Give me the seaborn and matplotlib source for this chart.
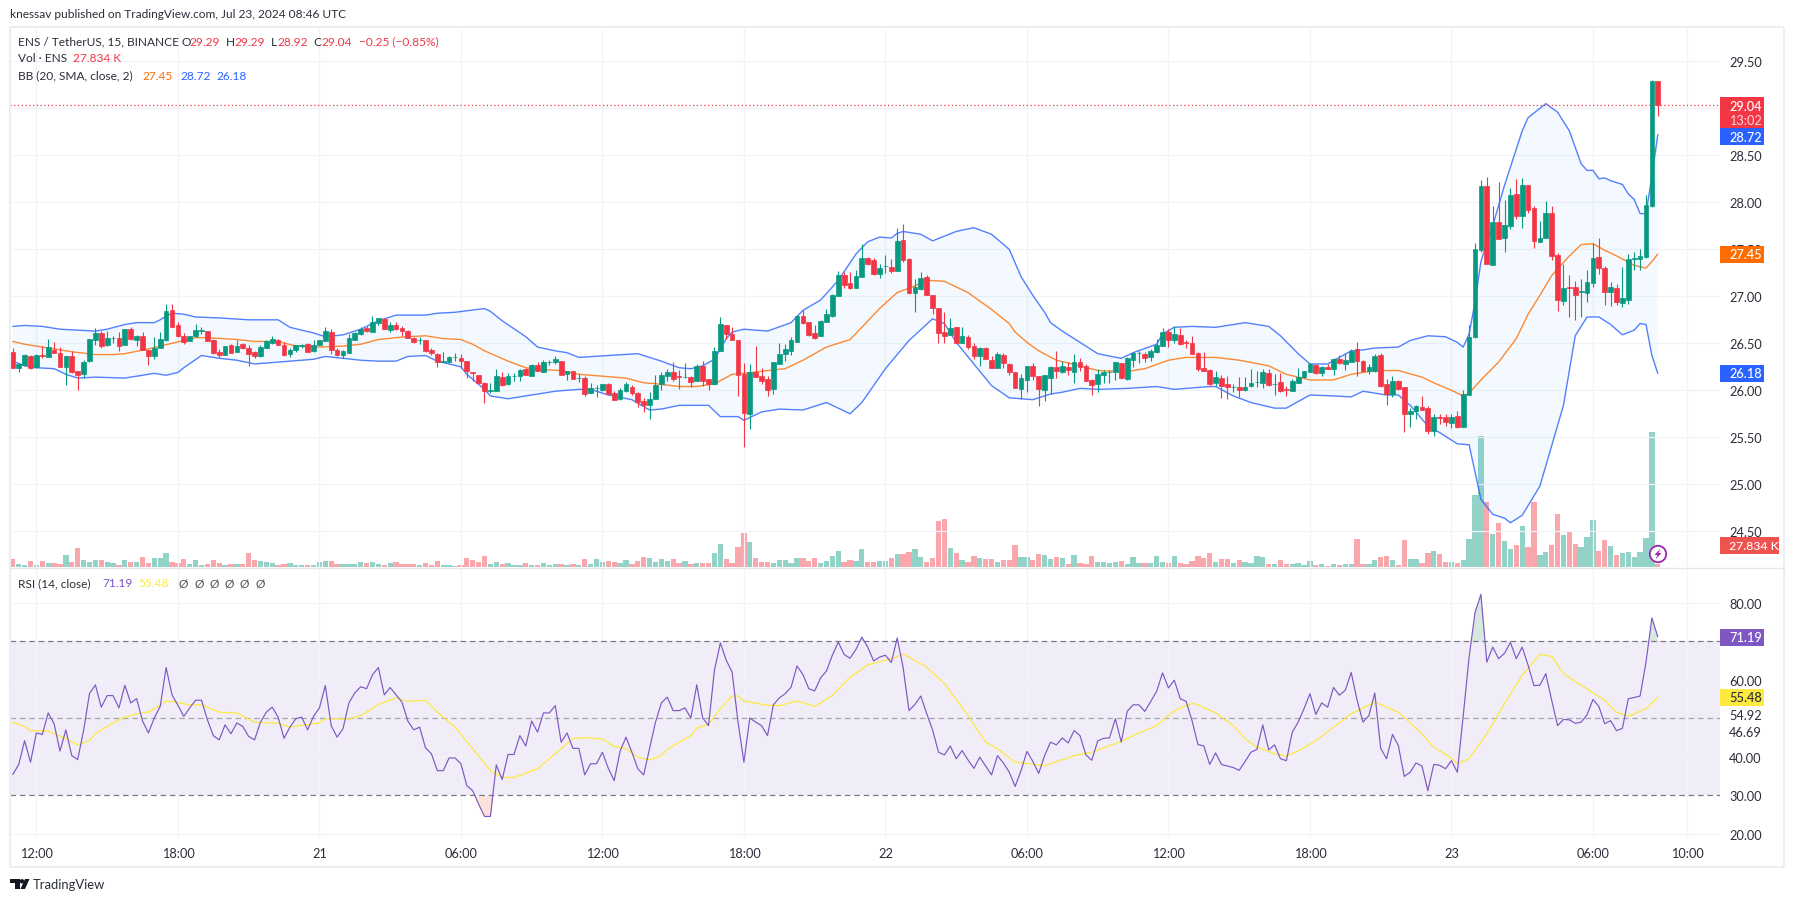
import numpy as np
import matplotlib
matplotlib.use("Agg")
import matplotlib.pyplot as plt
from matplotlib.patches import Rectangle, Circle, Polygon
import seaborn as sns

# bars are 15 minute candles counted from Jul 20 12:00
bars = list(range(-4, 276))

opens = [26.41,26.24,26.27,26.37,
    26.25,26.38,26.35,26.43,26.40,26.25,26.37,26.21,26.17,26.31,
    26.54,26.61,26.48,26.56,26.56,26.48,26.65,26.54,26.58,26.43,
    26.37,26.45,26.54,26.85,26.69,26.58,26.52,26.58,26.63,26.63,
    26.53,26.41,26.38,26.48,26.41,26.49,26.45,26.41,26.36,26.45,
    26.50,26.53,26.48,26.39,26.43,26.47,26.49,26.42,26.48,26.52,
    26.62,26.43,26.38,26.40,26.54,26.60,26.66,26.62,26.72,26.76,
    26.64,26.70,26.66,26.63,26.56,26.53,26.54,26.43,26.39,26.30,
    26.30,26.35,26.34,26.31,26.20,26.16,26.08,25.99,25.99,26.14,
    26.07,26.15,26.15,26.23,26.15,26.27,26.20,26.30,26.30,26.31,
    26.17,26.21,26.13,26.13,25.97,26.02,26.00,26.07,25.97,25.91,
    25.99,26.04,25.97,25.89,25.84,25.91,26.07,26.15,26.20,26.15,
    26.14,26.14,26.10,26.26,26.12,26.07,26.42,26.70,26.60,26.54,
    26.17,25.75,26.20,26.15,26.12,26.01,26.28,26.39,26.42,26.51,
    26.79,26.73,26.61,26.58,26.73,26.79,27.00,27.23,27.14,27.09,
    27.21,27.41,27.39,27.24,27.32,27.31,27.27,27.60,27.40,27.04,
    27.08,27.21,27.01,26.88,26.62,26.59,26.67,26.50,26.57,26.47,
    26.36,26.45,26.32,26.24,26.38,26.28,26.20,26.01,26.11,26.26,
    26.15,26.00,26.13,26.25,26.20,26.25,26.20,26.30,26.26,26.11,
    26.07,26.16,26.19,26.20,26.29,26.12,26.32,26.40,26.39,26.35,
    26.41,26.47,26.62,26.54,26.59,26.51,26.50,26.40,26.24,26.22,
    26.08,26.13,26.07,26.03,26.03,26.00,26.05,26.09,26.08,26.18,
    26.07,26.09,26.01,25.99,26.08,26.14,26.20,26.27,26.18,26.25,
    26.23,26.33,26.28,26.30,26.44,26.31,26.21,26.21,26.38,26.07,
    25.96,26.10,26.04,25.75,25.78,25.82,25.81,25.57,25.72,25.72,
    25.65,25.73,25.61,25.95,26.57,27.49,28.17,27.33,27.79,27.62,
    27.75,28.09,27.85,28.18,27.94,27.58,27.62,27.89,27.44,26.95,
    27.10,27.10,27.05,27.04,27.14,27.42,27.30,27.05,27.09,26.93,
    26.96,27.40,27.40,27.42,27.96,29.29]
highs = [26.45,26.29,26.39,26.38,
    26.39,26.47,26.55,26.51,26.46,26.37,26.42,26.21,26.32,26.55,
    26.66,26.63,26.63,26.58,26.62,26.65,26.67,26.59,26.62,26.43,
    26.57,26.62,26.92,26.92,26.73,26.61,26.58,26.71,26.67,26.63,
    26.55,26.44,26.47,26.49,26.53,26.50,26.48,26.42,26.48,26.53,
    26.58,26.55,26.51,26.45,26.48,26.49,26.50,26.54,26.54,26.67,
    26.65,26.45,26.43,26.60,26.62,26.67,26.68,26.79,26.77,26.77,
    26.73,26.73,26.68,26.64,26.57,26.57,26.54,26.45,26.40,26.41,
    26.37,26.40,26.39,26.31,26.20,26.16,26.09,26.08,26.23,26.19,
    26.18,26.18,26.23,26.24,26.28,26.30,26.32,26.32,26.36,26.31,
    26.21,26.21,26.17,26.15,26.08,26.06,26.07,26.08,25.99,26.02,
    26.09,26.06,25.98,25.92,25.98,26.16,26.19,26.23,26.30,26.22,
    26.29,26.15,26.28,26.31,26.12,26.46,26.78,26.70,26.67,26.54,
    26.29,26.28,26.47,26.24,26.15,26.30,26.50,26.49,26.57,26.80,
    26.85,26.73,26.69,26.75,26.86,27.02,27.27,27.26,27.26,27.28,
    27.56,27.42,27.41,27.34,27.44,27.40,27.73,27.77,27.41,27.18,
    27.26,27.23,27.01,26.88,26.83,26.77,26.67,26.67,26.59,26.50,
    26.46,26.46,26.36,26.41,26.40,26.29,26.20,26.17,26.26,26.29,
    26.15,26.16,26.26,26.42,26.31,26.30,26.39,26.34,26.28,26.12,
    26.23,26.22,26.22,26.30,26.29,26.35,26.41,26.42,26.41,26.44,
    26.55,26.66,26.65,26.68,26.66,26.54,26.58,26.41,26.41,26.23,
    26.21,26.16,26.15,26.07,26.14,26.14,26.23,26.21,26.23,26.23,
    26.17,26.18,26.05,26.12,26.24,26.21,26.29,26.28,26.26,26.28,
    26.34,26.38,26.40,26.44,26.51,26.32,26.28,26.39,26.40,26.12,
    26.15,26.11,26.04,25.81,25.84,25.94,25.83,25.75,25.75,25.75,
    25.75,25.78,26.00,26.70,27.57,28.24,28.27,27.96,28.22,28.02,
    28.15,28.25,28.26,28.18,27.96,27.80,28.01,27.96,27.46,27.34,
    27.23,27.16,27.18,27.28,27.57,27.62,27.32,27.15,27.13,27.31,
    27.45,27.47,27.50,28.08,29.30,29.29]
lows = [26.24,26.19,26.26,26.23,
    26.24,26.34,26.35,26.40,26.25,26.06,26.18,26.00,26.13,26.30,
    26.48,26.45,26.47,26.50,26.42,26.48,26.53,26.47,26.43,26.27,
    26.33,26.45,26.52,26.67,26.57,26.49,26.52,26.57,26.60,26.52,
    26.39,26.34,26.38,26.40,26.41,26.44,26.26,26.34,26.35,26.45,
    26.49,26.48,26.37,26.35,26.41,26.45,26.41,26.41,26.48,26.52,
    26.39,26.36,26.34,26.40,26.54,26.59,26.62,26.62,26.69,26.65,
    26.62,26.64,26.58,26.56,26.50,26.49,26.41,26.38,26.25,26.30,
    26.30,26.31,26.24,26.13,26.10,26.08,25.86,25.97,25.99,26.05,
    26.06,26.10,26.10,26.16,26.15,26.21,26.20,26.27,26.28,26.16,
    26.11,26.12,26.09,25.94,25.97,25.93,25.99,25.96,25.90,25.90,
    25.98,25.95,25.82,25.77,25.69,25.91,26.00,26.10,26.10,26.01,
    26.13,26.04,26.10,26.05,26.00,26.06,26.42,26.55,26.54,25.94,
    25.40,25.59,26.14,26.07,25.94,25.96,26.28,26.31,26.38,26.51,
    26.71,26.58,26.55,26.58,26.73,26.78,27.00,27.09,27.08,27.09,
    27.21,27.33,27.23,27.20,27.25,27.25,27.27,27.37,27.02,26.83,
    27.07,27.01,26.81,26.50,26.50,26.59,26.50,26.50,26.44,26.33,
    26.26,26.33,26.24,26.24,26.24,26.16,26.02,25.91,25.98,26.11,
    25.83,25.89,25.96,26.13,26.18,26.16,26.08,26.21,26.10,25.95,
    25.98,26.08,26.08,26.11,26.12,26.11,26.25,26.29,26.30,26.31,
    26.40,26.47,26.46,26.50,26.48,26.45,26.39,26.21,26.21,26.06,
    26.05,25.92,25.91,25.98,25.93,25.99,26.04,26.03,26.02,26.05,
    25.95,25.98,25.94,25.99,26.08,26.13,26.20,26.17,26.15,26.23,
    26.16,26.28,26.22,26.30,26.15,26.20,26.17,26.20,26.03,25.84,
    25.93,26.00,25.56,25.61,25.69,25.79,25.54,25.51,25.64,25.62,
    25.60,25.60,25.61,25.95,26.56,27.47,27.34,27.33,27.61,27.47,
    27.72,27.82,27.73,27.89,27.51,27.58,27.62,27.39,26.84,26.91,
    26.78,26.75,26.78,26.94,27.10,27.24,26.91,26.90,26.91,26.89,
    26.92,27.28,27.28,27.41,27.95,28.92]
closes = [26.24,26.28,26.38,26.24,
    26.38,26.37,26.46,26.40,26.25,26.37,26.19,26.16,26.30,26.55,
    26.61,26.47,26.56,26.56,26.47,26.65,26.55,26.58,26.43,26.37,
    26.45,26.55,26.84,26.67,26.58,26.51,26.58,26.64,26.64,26.52,
    26.40,26.38,26.47,26.40,26.47,26.45,26.39,26.36,26.46,26.52,
    26.55,26.48,26.38,26.43,26.48,26.48,26.41,26.48,26.53,26.63,
    26.43,26.38,26.42,26.56,26.61,26.65,26.63,26.73,26.77,26.65,
    26.70,26.65,26.63,26.56,26.51,26.53,26.42,26.40,26.30,26.31,
    26.35,26.35,26.31,26.21,26.18,26.08,25.99,26.00,26.15,26.06,
    26.15,26.15,26.22,26.16,26.27,26.21,26.30,26.30,26.33,26.16,
    26.21,26.12,26.13,25.96,26.02,26.02,26.07,25.96,25.90,26.00,
    26.07,25.97,25.88,25.84,25.91,26.06,26.16,26.19,26.12,26.14,
    26.14,26.09,26.26,26.10,26.07,26.42,26.71,26.60,26.54,26.16,
    25.76,26.20,26.14,26.10,26.00,26.30,26.39,26.44,26.53,26.79,
    26.72,26.59,26.56,26.74,26.81,27.01,27.23,27.12,27.09,27.22,
    27.41,27.34,27.24,27.30,27.32,27.27,27.59,27.39,27.04,27.10,
    27.20,27.01,26.88,26.61,26.58,26.66,26.50,26.58,26.46,26.37,
    26.45,26.33,26.24,26.39,26.29,26.20,26.02,26.13,26.26,26.15,
    26.01,26.16,26.25,26.21,26.26,26.22,26.30,26.25,26.10,26.06,
    26.17,26.20,26.20,26.30,26.13,26.34,26.40,26.40,26.34,26.42,
    26.48,26.62,26.54,26.60,26.49,26.50,26.39,26.23,26.21,26.07,
    26.14,26.05,26.03,26.03,26.00,26.04,26.08,26.09,26.20,26.06,
    26.07,25.99,26.00,26.10,26.14,26.21,26.28,26.18,26.25,26.23,
    26.33,26.29,26.32,26.42,26.31,26.21,26.25,26.37,26.05,25.96,
    26.10,26.01,25.75,25.78,25.83,25.79,25.57,25.72,25.71,25.66,
    25.72,25.61,25.96,26.57,27.50,28.17,27.34,27.79,27.61,27.76,
    28.08,27.85,28.18,27.92,27.59,27.62,27.89,27.43,26.96,27.09,
    27.09,27.01,27.06,27.15,27.41,27.30,27.05,27.10,26.94,26.98,
    27.40,27.41,27.43,27.97,29.29,29.04]

# volume in thousands of ENS
volumes = [80,30,20,60,20,60,40,40,30,120,
    47,190,70,50,70,70,47,40,23,70,
    50,50,100,40,90,90,140,50,40,80,
    30,70,20,30,70,40,23,30,30,30,
    140,70,60,50,40,23,30,40,20,20,
    20,20,50,60,60,30,30,30,30,50,
    40,50,30,20,40,50,30,30,30,20,
    40,20,60,20,20,10,20,90,70,50,
    110,30,50,30,40,20,20,40,20,20,
    40,20,30,30,20,30,20,80,30,80,
    47,60,50,40,70,30,60,100,90,50,
    80,60,80,40,60,30,40,40,40,140,
    230,80,40,200,340,250,90,50,50,40,
    70,70,40,90,90,60,90,40,60,110,
    160,50,70,60,180,50,50,60,60,90,
    130,130,150,180,100,50,90,463,480,190,
    140,70,50,110,90,80,80,50,70,70,
    220,100,100,70,130,120,80,100,90,30,
    120,40,30,110,50,50,40,50,60,30,
    100,40,40,40,110,50,40,110,40,30,
    60,110,93,143,50,83,83,43,73,50,
    43,110,103,33,33,73,33,33,43,23,
    60,23,33,13,30,23,30,30,280,33,
    33,73,103,113,73,23,273,83,83,43,
    143,163,130,50,53,43,73,283,723,1313,
    650,333,443,263,177,223,413,203,650,123,
    150,223,533,323,363,233,203,303,473,163,
    273,213,123,143,153,103,153,293,1353,28]

# Bollinger bands, read at the bars where the lines bend
upper_bars = [-4,-2,1,4,7,10,12,15,17,20,21,22,23,25,27,31,36,41,43,45,47,49,52,55,58,61,66,68,71,76,77,79,
    83,85,88,90,92,97,102,106,109,111,113,115,117,118,120,124,128,130,133,136,139,141,143,145,146,147,150,
    152,156,159,162,165,167,169,171,172,174,176,178,180,184,186,190,191,193,196,200,205,209,211,214,216,219,
    223,225,227,231,233,236,239,241,242,243,244,245,246,247,249,252,253,256,258,260,262,263,264,265,266,267,
    269,270,271,272,273,274,275]
upper_vals = [26.68,26.69,26.68,26.65,26.64,26.63,26.65,26.70,26.72,26.72,26.75,26.79,26.82,26.81,26.78,26.77,
    26.75,26.75,26.67,26.64,26.61,26.57,26.59,26.65,26.74,26.80,26.80,26.82,26.83,26.87,26.84,26.74,
    26.57,26.46,26.42,26.40,26.35,26.37,26.39,26.31,26.24,26.23,26.26,26.33,26.55,26.62,26.65,26.63,26.72,
    26.85,26.96,27.17,27.45,27.58,27.63,27.62,27.67,27.69,27.66,
    27.59,27.69,27.73,27.66,27.50,27.21,27.01,26.83,26.72,26.63,26.55,26.47,26.39,26.34,26.40,26.49,26.60,
    26.67,26.68,26.67,26.72,26.68,26.58,26.39,26.28,26.28,
    26.42,26.43,26.45,26.46,26.53,26.58,26.57,26.51,26.46,26.60,26.94,27.37,27.57,27.75,28.18,28.76,28.90,
    29.05,28.96,28.76,28.41,28.34,28.34,28.25,28.26,28.23,
    28.19,28.09,28.03,27.88,27.88,28.28,28.72]
basis_bars = [-4,-2,2,6,10,13,15,19,23,25,27,29,34,37,41,44,48,52,55,58,61,63,66,69,72,74,76,80,83,86,89,92,96,
    100,103,105,109,112,115,118,120,124,127,130,134,138,140,143,146,149,151,154,158,162,165,166,168,170,173,
    177,180,185,188,192,195,200,204,209,212,216,220,223,227,231,235,237,240,242,243,245,248,251,253,255,257,
    260,262,264,266,268,271,273,274,275]
basis_vals = [26.52,26.49,26.45,26.41,26.38,26.38,26.39,26.44,26.50,26.53,26.56,26.56,26.54,26.52,26.52,26.47,
    26.46,26.47,26.49,26.54,26.56,26.57,26.58,26.55,26.54,26.49,26.42,26.31,26.24,26.22,26.21,26.17,26.15,
    26.13,26.08,26.07,26.04,26.04,26.07,26.17,26.18,26.21,26.23,26.32,26.46,26.54,26.67,26.87,27.04,27.11,
    27.17,27.16,27.04,26.86,26.71,26.62,26.51,26.42,26.32,
    26.26,26.21,26.20,26.23,26.32,26.35,26.35,26.32,26.26,26.17,26.11,26.11,26.17,26.21,26.21,26.14,26.08,
    26.00,25.94,25.97,26.11,26.30,26.55,26.81,27.01,27.22,
    27.43,27.55,27.56,27.49,27.43,27.33,27.30,27.37,27.45]
lower_bars = [-4,-2,0,3,5,7,10,15,17,20,22,24,25,28,31,34,37,41,45,47,49,52,55,58,61,63,66,68,72,73,76,77,80,84,
    88,92,94,97,101,104,106,109,114,116,119,120,123,126,130,134,138,140,144,148,152,154,156,159,162,165,167,169,
    172,174,177,180,185,190,193,199,200,203,206,210,212,216,220,223,225,229,231,233,236,238,241,243,245,247,
    249,250,252,255,259,261,263,265,267,269,271,272,273,274,275]
lower_vals = [26.31,26.26,26.24,26.23,26.17,26.13,26.14,26.13,26.15,26.18,26.16,26.19,26.24,26.37,26.34,26.32,
    26.28,26.30,26.32,26.33,26.36,26.34,26.32,26.31,26.31,26.36,26.37,26.31,26.25,26.17,26.01,25.94,25.91,25.95,
    25.99,26.01,26.01,25.95,25.90,25.79,25.80,25.84,25.84,25.72,25.72,25.68,25.77,25.80,25.79,25.87,25.75,25.87,
    26.23,26.53,26.76,26.71,26.51,26.28,26.05,25.92,25.91,25.90,
    25.96,25.98,26.02,26.01,26.02,26.04,26.01,26.04,26.04,25.94,25.87,25.81,25.81,25.95,25.94,25.93,25.99,25.95,
    25.95,25.84,25.62,25.55,25.43,25.42,24.84,24.68,
    24.64,24.59,24.67,24.98,25.84,26.58,26.78,26.78,26.70,26.59,26.64,26.71,26.70,26.37,26.18]

rsi_vals = [35.4,38.0,44.2,38.6,46.2,45.8,51.4,48.6,41.5,47.0,
    40.3,39.3,46.8,56.4,58.7,52.9,55.9,55.9,52.7,58.6,
    54.0,55.1,49.3,46.2,50.1,53.1,63.2,56.1,53.4,50.5,
    52.7,54.7,54.7,49.6,45.5,44.4,48.3,46.0,48.8,47.9,
    45.3,44.4,49.0,51.6,52.9,50.3,44.8,47.7,49.9,50.3,
    47.0,50.5,52.7,58.5,48.1,45.1,47.3,54.0,56.6,58.2,
    57.7,61.3,63.2,56.1,58.0,56.1,54.2,49.3,47.0,47.7,
    42.3,40.8,36.4,36.4,39.7,39.7,38.2,32.5,31.2,27.7,
    24.5,24.5,37.9,34.1,40.6,40.6,45.5,42.8,49.3,46.4,
    51.4,51.4,53.3,43.8,46.2,42.2,42.2,35.3,38.2,38.2,
    41.2,37.0,33.8,41.5,45.1,41.2,36.9,35.3,42.1,49.0,
    54.0,55.5,52.0,52.0,52.7,50.1,58.7,50.1,48.1,62.5,
    69.6,65.1,62.0,49.0,38.6,50.1,49.0,48.1,45.5,53.5,
    55.3,56.4,58.1,63.6,61.4,57.7,57.1,60.5,62.3,66.4,
    69.8,66.6,65.6,67.9,71.1,68.5,64.9,65.9,66.4,64.5,
    70.9,63.2,52.0,53.6,55.8,51.2,47.0,41.2,40.5,42.8,
    39.5,41.6,39.2,37.0,39.9,37.6,35.3,40.3,38.4,36.0,
    32.3,36.4,41.4,38.8,35.7,40.3,43.8,43.1,44.9,43.6,
    46.8,45.5,40.5,39.1,44.1,44.8,44.9,49.9,43.8,51.8,
    53.5,53.5,51.8,54.4,57.0,61.8,57.9,59.9,55.1,54.4,
    49.4,43.2,42.8,38.0,41.0,38.0,37.6,37.2,36.5,38.8,
    41.2,41.9,48.3,41.8,43.1,39.5,39.0,46.4,49.0,52.5,
    56.4,51.0,54.0,52.9,58.0,56.0,57.3,61.9,54.7,49.0,
    50.7,56.6,42.2,39.5,45.8,42.9,34.9,36.0,38.4,37.6,
    31.2,38.0,37.8,36.9,39.0,36.0,50.7,65.9,77.5,82.2,
    64.6,68.5,65.5,66.9,69.7,65.5,68.5,63.8,58.5,58.6,
    61.6,54.7,48.1,49.7,49.6,48.7,49.0,50.9,54.9,53.1,
    48.6,49.4,46.8,47.4,55.1,55.4,55.8,64.6,76.1,71.19]

rsi_ma_bars = [-4,-2,-1,2,5,7,9,10,13,15,18,19,22,23,26,28,31,34,37,41,43,46,48,49,53,55,58,61,63,66,68,71,74,77,79,
    81,85,88,91,93,96,98,100,102,104,106,107,109,111,112,114,116,118,119,120,124,126,129,132,133,135,138,141,145,147,
    151,154,158,161,163,166,171,176,179,184,187,190,193,196,197,200,203,205,207,210,212,214,217,220,223,227,231,235,
    237,240,241,243,246,249,252,255,257,259,262,266,268,270,273,275]
rsi_ma_vals = [49.0,47.9,46.8,46.7,44.7,43.1,44.2,46.0,48.8,50.3,51.5,51.6,54.4,54.4,53.5,53.5,51.6,51.4,49.0,48.7,
    47.7,48.4,48.8,49.9,49.8,50.7,53.6,55.3,54.4,54.7,51.6,47.7,42.1,36.4,34.7,
    34.6,36.9,40.8,44.7,45.0,44.6,42.7,42.1,39.9,39.2,40.3,41.9,43.8,45.5,47.5,48.4,52.5,55.8,55.8,54.5,53.4,53.3,
    54.5,53.1,54.0,56.0,60.7,63.9,65.5,66.7,
    63.3,59.0,50.7,43.8,42.1,38.6,37.7,40.3,41.2,44.0,46.2,48.1,52.0,53.9,53.5,51.4,48.1,44.7,42.5,40.8,40.2,41.5,
    44.2,47.7,51.2,54.2,51.6,46.0,
    42.5,39.7,38.2,39.5,46.0,53.8,61.2,66.6,66.1,61.6,58.6,54.7,51.6,50.5,52.5,55.48]

price_ticks = [29.5, 29.0, 28.5, 28.0, 27.5, 27.0, 26.5, 26.0, 25.5, 25.0, 24.5]
price_tick_labels = ["29.50", "", "28.50", "28.00", "27.50", "27.00", "26.50", "26.00", "25.50", "25.00", "24.50"]
rsi_ticks = [80, 60, 51.1, 46.69, 40, 30, 20]
rsi_tick_labels = ["80.00", "60.00", "54.92", "46.69", "40.00", "30.00", "20.00"]
time_ticks = [0, 24, 48, 72, 96, 120, 144, 168, 192, 216, 240, 264, 280]
time_labels = ["12:00", "18:00", "21", "06:00", "12:00", "18:00", "22", "06:00", "12:00", "18:00", "23", "06:00", "10:00"]

GREEN = "#089981"
RED = "#F23645"
BLUE = "#2962FF"
ORANGE = "#FF6D00"
PURPLE = "#7E57C2"
YELLOW = "#FDE93F"
GRID = "#F0F3FA"
FRAME = "#EDEEF2"
TEXT = "#2A2E39"
W, H = 1794, 903

sns.set_style("white")
plt.rcParams["font.family"] = ["Lato", "DejaVu Sans"]
plt.rcParams["font.size"] = 9.2

fig = plt.figure(figsize=(W / 100, H / 100), dpi=100)


def pane(top, bottom):
    return fig.add_axes([10 / W, 1 - bottom / H, 1710 / W, (bottom - top) / H])


ax = pane(30, 568)
rsi_ax = pane(569, 839)
vol_ax = ax.twinx()
ax.set_zorder(vol_ax.get_zorder() + 1)
ax.patch.set_visible(False)

o, h, l, c = map(np.array, (opens, highs, lows, closes))
up = c >= o
colors = np.where(up, GREEN, RED)

# volume underneath the candles
sns.barplot(x=bars, y=volumes, hue=np.where(up, "up", "down"), palette={"up": GREEN, "down": RED},
            native_scale=True, dodge=False, width=0.9, saturation=1, alpha=0.44, linewidth=0,
            legend=False, ax=vol_ax)
vol_ax.set_ylim(0, 5380)
vol_ax.axis("off")

# Bollinger bands
ax.fill(np.r_[upper_bars, lower_bars[::-1]], np.r_[upper_vals, lower_vals[::-1]],
        color="#2196F3", alpha=0.05, lw=0, zorder=1)
sns.lineplot(x=upper_bars, y=upper_vals, color=BLUE, linewidth=1.0, alpha=0.8, ax=ax, zorder=2)
sns.lineplot(x=lower_bars, y=lower_vals, color=BLUE, linewidth=1.0, alpha=0.8, ax=ax, zorder=2)
sns.lineplot(x=basis_bars, y=basis_vals, color=ORANGE, linewidth=1.0, alpha=0.8, ax=ax, zorder=2)

# candles
ax.vlines(bars, l, h, colors=colors, linewidth=0.8, zorder=3)
ax.bar(bars, c - o, bottom=o, width=0.8, color=colors, edgecolor=colors, linewidth=0.5, zorder=4)
ax.axhline(closes[-1], color=RED, linestyle=(0, (1, 2)), linewidth=0.9, zorder=5)

# RSI pane
rsi = np.array(rsi_vals)
rsi_ax.axhspan(30, 70, color=PURPLE, alpha=0.1, lw=0, zorder=0)
rsi_ax.fill_between(bars, rsi, 70, where=rsi > 70, interpolate=True, color="#D5E9DF", lw=0, zorder=1)
rsi_ax.fill_between(bars, rsi, 30, where=rsi < 30, interpolate=True, color="#FBE3DC", lw=0, zorder=1)
for level, shade in [(70, "#787B86"), (50, "#A3A6AF"), (30, "#787B86")]:
    rsi_ax.axhline(level, color=shade, linestyle=(0, (4.5, 3)), linewidth=0.9, zorder=2)
sns.lineplot(x=rsi_ma_bars, y=rsi_ma_vals, color=YELLOW, linewidth=0.9, ax=rsi_ax, zorder=3)
sns.lineplot(x=bars, y=rsi_vals, color=PURPLE, linewidth=0.85, ax=rsi_ax, zorder=4)

for a in (ax, rsi_ax, vol_ax):
    a.set_xlim(-4.478, 285.55)
ax.set_ylim(24.12, 29.844)
rsi_ax.set_ylim(18.9, 89.06)

for a, ticks, labels in [(ax, price_ticks, price_tick_labels), (rsi_ax, rsi_ticks, rsi_tick_labels)]:
    a.yaxis.tick_right()
    a.set_yticks(ticks)
    a.set_yticklabels(labels, color=TEXT)
    a.tick_params(axis="y", length=0, pad=6.5)
    a.set_xlabel("")
    a.set_ylabel("")
    a.grid(True, color=GRID, linewidth=0.9, zorder=0)
    a.set_axisbelow(True)
    a.set_xticks(time_ticks)
    for s in a.spines.values():
        s.set_visible(False)
# the 54.92 and 46.69 scale labels carry no gridline
for line, t in zip(rsi_ax.get_ygridlines(), rsi_ticks):
    if t in (51.1, 46.69, 30):
        line.set_visible(False)
ax.tick_params(axis="x", length=0, labelbottom=False)
rsi_ax.set_xticklabels(time_labels, color=TEXT)
rsi_ax.tick_params(axis="x", length=0, pad=6.5)

# overlay in picture pixels for the frame, header and price tags
top = fig.add_axes([0, 0, 1, 1], zorder=20)
top.set_xlim(0, W)
top.set_ylim(H, 0)
top.axis("off")
top.patch.set_visible(False)


def put(x, y, s, color=TEXT, fontsize=8.6, **kw):
    top.text(x, y, s, color=color, va="center", fontsize=fontsize, **kw)


for x0, y0, x1, y1 in [(9.5, 28, 1784, 28), (9.5, 868, 1784, 868), (9.5, 28, 9.5, 868), (1784, 28, 1784, 868)]:
    top.plot([x0, x1], [y0, y1], color=FRAME, linewidth=1.6, solid_capstyle="butt")
top.plot([10, 1784], [568.5, 568.5], color="#E4E6EC", linewidth=1.0)

put(10.3, 15, "knessav published on TradingView.com, Jul 23, 2024 08:46 UTC")
put(18.4, 42, "ENS / TetherUS, 15, BINANCE")
for x, s, col in [(181.8, "O", TEXT), (189.8, "29.29", RED), (226, "H", TEXT), (234, "29.29", RED),
                  (271, "L", TEXT), (277.5, "28.92", RED), (313.8, "C", TEXT), (321, "29.04", RED),
                  (358.6, "−0.25 (−0.85%)", RED)]:
    put(x, 42, s, col)
put(18.4, 59, "Vol · ENS")
put(73, 59, "27.834 K", RED)
put(18.4, 76, "BB (20, SMA, close, 2)")
put(142.7, 76, "27.45", ORANGE)
put(180, 76, "28.72", BLUE)
put(216.6, 76, "26.18", BLUE)
put(18.4, 584, "RSI (14, close)")
put(102, 584, "71.19", PURPLE)
put(138.5, 584, "55.48", YELLOW)
for x in [178.7, 194.8, 209.7, 224.6, 239.6, 256]:
    put(x, 584, "Ø", "#555555")

# price tags on the right scale
tags = [(98, 129, 1764, RED), (129, 146, 1764, BLUE), (247, 264, 1764, ORANGE), (366, 383, 1764, BLUE),
        (538, 555, 1779, "#EF5350"), (630, 647, 1764, PURPLE), (690, 707, 1764, YELLOW)]
for y0, y1, x1, col in tags:
    top.add_patch(Rectangle((1720, y0), x1 - 1720, y1 - y0, facecolor=col, lw=0))
for y, s, col in [(106.7, "29.04", "white"), (137.7, "28.72", "white"), (255.5, "27.45", "white"),
                  (374.5, "26.18", "white"), (638.5, "71.19", "white"), (698.5, "55.48", TEXT)]:
    put(1729, y, s, col, fontsize=9.2, fontweight="medium")
put(1729, 546.5, "27.834 K", "white", fontsize=8.8, fontweight="medium")
put(1729, 120.7, "13:02", "#FBD5D8", fontsize=9.2)

# lightning badge on the last candle
top.add_patch(Circle((1658, 555), 8.2, facecolor="white", edgecolor="#9C27B0", linewidth=1.3))
top.add_patch(Polygon([(1660.5, 549.5), (1654.5, 556), (1657.5, 556), (1655.5, 560.5), (1661.5, 554), (1658.5, 554)],
                      facecolor="#9C27B0", lw=0))

# TradingView mark
top.add_patch(Polygon([(10, 880), (19.5, 880), (19.5, 890), (15, 890), (15, 884.5), (10, 884.5)], facecolor="#131722", lw=0))
top.add_patch(Circle((22, 882.3), 2.2, facecolor="#131722", lw=0))
top.add_patch(Polygon([(25, 880), (29.5, 880), (25, 890), (20.5, 890)], facecolor="#131722", lw=0))
put(33, 885, "TradingView", "#2A2E39", fontsize=9.4)

fig.savefig("out.png", dpi=100)
